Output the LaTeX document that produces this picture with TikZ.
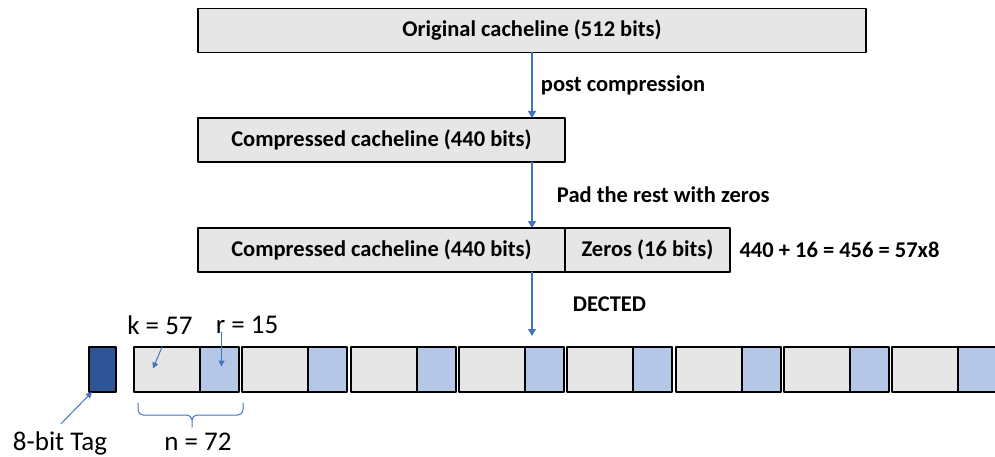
\documentclass[tikz,border=0pt]{standalone}
\usepackage{fontspec}
\setmainfont{Carlito}
\usetikzlibrary{positioning,arrows.meta}

\definecolor{linkblue}{HTML}{4472C4}
\definecolor{cellgray}{HTML}{E7E6E6}
\definecolor{cellblue}{HTML}{B4C7E7}
\definecolor{tagblue}{HTML}{2F5597}

\tikzset{
  linebox/.style={draw=black, line width=1.6pt, fill=cellgray, minimum height=44pt,
    inner sep=0pt, outer sep=0pt, font=\fontsize{22.5}{26}\selectfont\bfseries},
  kcell/.style={draw=black, line width=2pt, fill=cellgray, minimum width=66pt,
    minimum height=45pt, inner sep=0pt, outer sep=0pt},
  rcell/.style={kcell, fill=cellblue, minimum width=39pt},
  flowarrow/.style={draw=linkblue, line width=1.3pt, -{Triangle[width=8pt,length=7pt]}},
  pointer/.style={draw=linkblue, line width=1pt, -{Triangle[width=6pt,length=6pt]}},
  steplabel/.style={font=\fontsize{22.5}{26}\selectfont\bfseries},
  biglabel/.style={font=\fontsize{27}{32}\selectfont},
}

\begin{document}
\begin{tikzpicture}[x=1pt, y=-1pt, line cap=round, line join=round]
  % Fix the page to the size of the reference
  \useasboundingbox (0,0) rectangle (995,457);
  \def\pitch{108.3}

  % Cacheline stages
  \node[linebox, minimum width=668pt] (orig) at (532,30.5) {Original cacheline (512 bits)};
  \node[linebox, minimum width=367pt] (comp) at (381.5,140) {Compressed cacheline (440 bits)};
  \node[linebox, minimum width=367pt] (padded) at (381.5,250) {Compressed cacheline (440 bits)};
  \node[linebox, minimum width=165pt, right=0pt of padded] (zeros) {Zeros (16 bits)};
  \node[steplabel, right=6pt of zeros] (sum) {440 + 16 = 456 = 57x8};

  % Arrows between the stages
  \coordinate (dectedend) at (532,336);
  \draw[flowarrow] (orig.south) -- (orig.south |- comp.north)
    node[midway, right=5pt, steplabel] {post compression};
  \draw[flowarrow] (orig.south |- comp.south) -- (orig.south |- padded.north)
    node[midway, right=21pt, steplabel] {Pad the rest with zeros};
  \draw[flowarrow] (orig.south |- padded.south) -- (dectedend)
    node[midway, right=37pt, steplabel] {DECTED};

  % Tag and the codewords
  \node[kcell, fill=tagblue, minimum width=27pt] (tag) at (102.5,369.5) {};
  \foreach \i in {0,...,7} {
    \node[kcell] (k\i) at ({167+\pitch*\i},369.5) {};
    \node[rcell, right=0pt of k\i] (r\i) {};
  }

  % Labels for the first codeword
  \node[biglabel] (klbl) at (160,325) {k = 57};
  \node[biglabel] (rlbl) at (247,325) {r = 15};
  \draw[pointer] ([xshift=-5pt]k0.north) -- ([xshift=-14pt,yshift=1pt]k0.center);
  \draw[pointer] ([xshift=2pt,yshift=15pt]r0.north) -- ([xshift=2pt,yshift=3pt]r0.center);

  \node[biglabel] (taglbl) at (60,443) {8-bit Tag};
  \draw[pointer] ([xshift=1pt,yshift=4pt]taglbl.north) -- ([xshift=3pt]tag.south west);

  % Brace under the first codeword
  \coordinate (bl) at ([xshift=4pt,yshift=-11pt]k0.south west);
  \coordinate (br) at ([xshift=4pt,yshift=-11pt]r0.south east);
  \coordinate (btip) at (192,427);
  \draw[linkblue, line width=1pt, rounded corners=5pt]
    (bl) |- (btip |- 0,415) -- (btip)
    (br) |- (btip |- 0,415) -- (btip);
  \node[biglabel] (nlbl) at (198,442) {n = 72};
\end{tikzpicture}
\end{document}
